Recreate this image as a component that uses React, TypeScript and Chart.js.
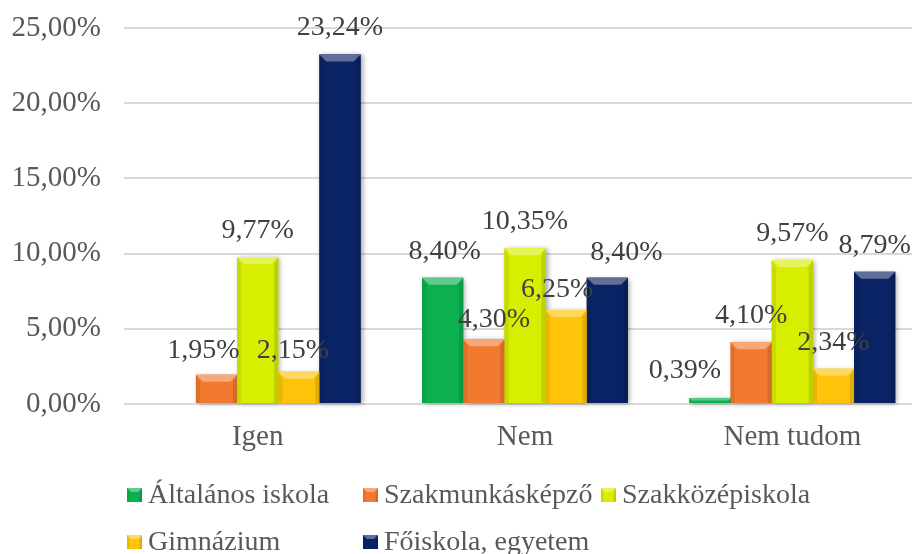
import React, { useEffect, useRef } from "react";
import { Chart, registerables } from "chart.js";

Chart.register(...registerables);

const categories = ["Igen", "Nem", "Nem tudom"];
const seriesNames = [
  "Általános iskola",
  "Szakmunkásképző",
  "Szakközépiskola",
  "Gimnázium",
  "Főiskola, egyetem",
];
const altalanos = [0, 8.4, 0.39];
const szakmunkas = [1.95, 4.3, 4.1];
const szakkozep = [9.77, 10.35, 9.57];
const gimnazium = [2.15, 6.25, 2.34];
const foiskola = [23.24, 8.4, 8.79];
const yTicks = [0, 5, 10, 15, 20, 25];

const seriesValues = [altalanos, szakmunkas, szakkozep, gimnazium, foiskola];
const seriesColors = ["#0DB04F", "#F27A30", "#D8EE00", "#FFC40A", "#0A2365"];

// label nudges (dx, dy) for labels Excel moved by hand
const labelNudge: Record<string, [number, number]> = {
  "1-0": [-13, 2],
  "3-0": [-6, 5],
  "0-1": [2, 0],
  "1-1": [10, 7],
  "3-1": [-9, 6],
  "4-1": [19, 1],
  "0-2": [-25, -1],
};

const fmt = (v: number) => v.toFixed(2).replace(".", ",") + "%";
const SERIF = "'Liberation Serif', 'Times New Roman', serif";

function drawBevel(ctx: CanvasRenderingContext2D, l: number, t: number, r: number, b: number, bvMax: number) {
  const bv = Math.min(bvMax, (b - t) / 2, (r - l) / 2);
  if (bv <= 0) return;
  ctx.save();
  // top
  ctx.beginPath();
  ctx.moveTo(l, t); ctx.lineTo(r, t); ctx.lineTo(r - bv, t + bv); ctx.lineTo(l + bv, t + bv); ctx.closePath();
  ctx.fillStyle = "rgba(255,255,255,0.35)";
  ctx.fill();
  // left
  ctx.beginPath();
  ctx.moveTo(l, t); ctx.lineTo(l + bv * 0.6, t + bv); ctx.lineTo(l + bv * 0.6, b); ctx.lineTo(l, b); ctx.closePath();
  ctx.fillStyle = "rgba(0,0,0,0.08)";
  ctx.fill();
  // right
  ctx.beginPath();
  ctx.moveTo(r, t); ctx.lineTo(r - bv * 0.6, t + bv); ctx.lineTo(r - bv * 0.6, b); ctx.lineTo(r, b); ctx.closePath();
  ctx.fillStyle = "rgba(0,0,0,0.12)";
  ctx.fill();
  ctx.restore();
}

const barFx = {
  id: "barFx",
  beforeDatasetsDraw(chart: any) {
    const ctx = chart.ctx as CanvasRenderingContext2D;
    chart.data.datasets.forEach((ds: any, di: number) => {
      const meta = chart.getDatasetMeta(di);
      meta.data.forEach((bar: any, i: number) => {
        if (!ds.data[i]) return;
        const { x, y, base, width } = bar.getProps(["x", "y", "base", "width"], true);
        ctx.save();
        ctx.shadowColor = "rgba(0,0,0,0.35)";
        ctx.shadowBlur = 5;
        ctx.shadowOffsetX = 2;
        ctx.shadowOffsetY = 1;
        ctx.fillStyle = ds.backgroundColor;
        ctx.fillRect(x - width / 2, y, width, base - y);
        ctx.restore();
      });
    });
  },
  afterDatasetsDraw(chart: any) {
    const ctx = chart.ctx as CanvasRenderingContext2D;
    chart.data.datasets.forEach((ds: any, di: number) => {
      const meta = chart.getDatasetMeta(di);
      meta.data.forEach((bar: any, i: number) => {
        if (!ds.data[i]) return;
        const { x, y, base, width } = bar.getProps(["x", "y", "base", "width"], true);
        drawBevel(ctx, x - width / 2, y, x + width / 2, base, 7);
      });
    });
  },
  afterDraw(chart: any) {
    const ctx = chart.ctx as CanvasRenderingContext2D;
    // data labels
    ctx.save();
    ctx.font = `28px ${SERIF}`;
    ctx.fillStyle = "#404040";
    ctx.textAlign = "center";
    ctx.textBaseline = "alphabetic";
    chart.data.datasets.forEach((ds: any, di: number) => {
      const meta = chart.getDatasetMeta(di);
      meta.data.forEach((bar: any, i: number) => {
        const v = ds.data[i];
        if (!v) return;
        const { x, y } = bar.getProps(["x", "y"], true);
        const n = labelNudge[`${di}-${i}`] || [0, 0];
        ctx.fillText(fmt(v), x + n[0], y - 19 + n[1]);
      });
    });
    ctx.restore();

    // legend
    const slots = [
      [127, 495], [363, 495], [601, 495],
      [127, 542], [363, 542],
    ];
    ctx.save();
    ctx.font = `28px ${SERIF}`;
    ctx.textAlign = "left";
    ctx.textBaseline = "alphabetic";
    chart.data.datasets.forEach((ds: any, di: number) => {
      const [lx, ly] = slots[di];
      ctx.save();
      ctx.fillStyle = ds.backgroundColor;
      ctx.fillRect(lx, ly - 7, 15, 14);
      ctx.restore();
      drawBevel(ctx, lx, ly - 7, lx + 15, ly + 7, 4);
      ctx.fillStyle = "#595959";
      ctx.fillText(ds.label, lx + 21, ly + 7.5);
    });
    ctx.restore();
  },
};

export default function App() {
  const ref = useRef<HTMLCanvasElement>(null);
  useEffect(() => {
    if (!ref.current) return;
    const chart = new Chart(ref.current, {
      type: "bar",
      data: {
        labels: categories,
        datasets: seriesNames.map((name, k) => ({
          label: name,
          data: seriesValues[k],
          backgroundColor: seriesColors[k],
          borderWidth: 0,
          categoryPercentage: 0.77,
          barPercentage: 1.0,
        })),
      },
      options: {
        responsive: false,
        animation: false,
        layout: { padding: { top: 28, left: 0, right: 0, bottom: 0 } },
        plugins: {
          legend: { display: false },
          tooltip: { enabled: false },
        },
        scales: {
          x: {
            grid: { display: false, drawTicks: false },
            border: { display: false },
            ticks: {
              font: { family: SERIF, size: 29 },
              color: "#595959",
              padding: 16,
            },
            afterFit: (s: any) => { s.height = 150; },
          },
          y: {
            min: 0,
            max: 25,
            afterBuildTicks: (s: any) => { s.ticks = yTicks.map((v) => ({ value: v })); },
            grid: { color: "#d9d9d9", lineWidth: 2, drawTicks: false },
            border: { display: false },
            ticks: {
              font: { family: SERIF, size: 29 },
              color: "#595959",
              padding: 23,
              callback: (v: any) => fmt(Number(v)),
            },
            afterFit: (s: any) => {
              s.width = 124;
              s.paddingTop = 0;
              s.paddingBottom = 0;
            },
          },
        },
      },
      plugins: [barFx],
    });
    return () => chart.destroy();
  }, []);
  return (
    <div style={{ position: "fixed", left: 0, top: 0, width: 912, height: 554, overflow: "hidden", background: "#fff" }}>
      <canvas ref={ref} width={926} height={554} style={{ display: "block" }} />
    </div>
  );
}
